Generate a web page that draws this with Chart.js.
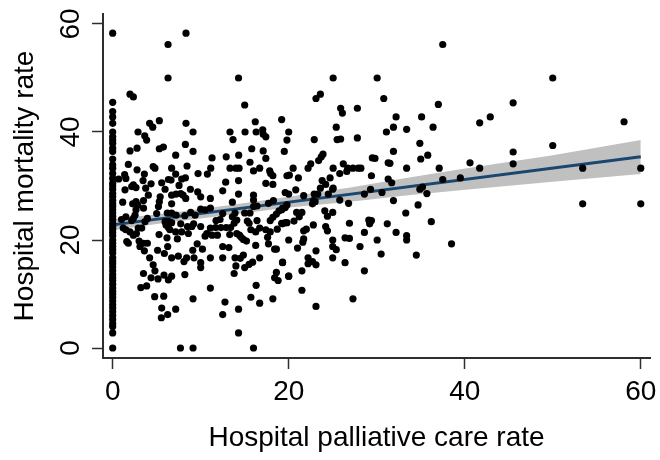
<!DOCTYPE html>
<html lang="en">
<head>
    <meta charset="UTF-8">
    <title>Hospital mortality vs palliative care</title>
    <script src="https://cdn.jsdelivr.net/npm/chart.js"></script>
    <style>
        body { margin: 0; background: #fff; }
        canvas { display: block; }
    </style>
</head>
<body>
    <canvas id="scatterChart" width="660" height="460"></canvas>
    <script>
        // Hospitals with a palliative care rate of zero (the column on the left)
        const zeroRateMortality = [
            58.3, 45.5, 43.8, 42.8, 41.6, 40, 39.1, 38.5, 37.9, 37,
            36.4, 35, 33.9, 33.3, 32.3, 31.4, 30.5, 30, 29.4, 28.6,
            28, 27.3, 26.7, 26.2, 25.6, 25, 24.4, 23.8, 23.1, 22.5,
            22, 21.4, 20.8, 20, 19.4, 18.8, 18.2, 17.6, 16.7, 16.1,
            15.6, 15, 14.3, 13.6, 13, 12.5, 11.8, 11.1, 10.5, 10,
            9.4, 8.7, 8, 7.4, 6.7, 6, 5.3, 4.5, 4, 2.8, 0
        ];

        // Remaining hospitals, same order in both arrays (rows of ten)
        const palliativeRate = [
            1.97, 2.35, 6.29, 8.33, 6.29, 14.3, 15, 4.2, 4.55, 5.3,
            2.88, 3.64, 3.86, 8.33, 9.13, 8.26, 9.13, 7.16, 5.3, 5.76,
            2.77, 1.97, 1.78, 2.77, 4.6, 4.8, 6.7, 8.45, 3.6, 1.36,
            1.5, 0.68, 7.16, 6.33, 6.63, 7.84, 8.26, 5.57, 4.36, 3.45,
            9.7, 10.76, 11.14, 11.29, 12.9, 14.32, 13.33, 13.67, 15.04, 16.2,
            16.3, 17.05, 17.1, 17.4, 15.8, 17.1, 17.4, 15.6, 16, 16.7,
            13.33, 14, 14.36, 14.3, 12.84, 17.84, 17.95, 18.2, 19.2, 20,
            19.8, 19.5, 19.8, 20.07, 17.4, 18.2, 2.35, 2.16, 2.65, 7.54,
            8.83, 1.4, 5.95, 3.75, 4.05, 5.4, 5.3, 5.2, 6.7, 7.2,
            7.73, 8, 8.3, 9.66, 10, 11.1, 12.5, 14.3, 16, 16,
            13.6, 6.7, 1.14, 2.27, 2.65, 2.84, 3.5, 3.5, 2.65, 2.54,
            2.35, 5, 6.2, 6.7, 7.2, 8.2, 8.86, 9.36, 10, 10.5,
            11.1, 12.5, 11.74, 12.2, 13.9, 13.6, 15, 15.6, 16, 16.4,
            17.7, 18.26, 1, 1.5, 2.16, 3.94, 3.67, 2.9, 3.3, 1.2,
            1.5, 1.97, 2.35, 2.7, 5.95, 6.33, 6.7, 6.06, 6.33, 6.5,
            5.27, 6.17, 7.16, 7.35, 7.84, 7.73, 8.5, 8.6, 9.2, 9,
            10, 10.7, 10.5, 9.6, 9.1, 10.2, 11.3, 11.9, 11.1, 11.7,
            12.3, 12.9, 13.4, 13.8, 14.1, 13.3, 14.1, 14.4, 14.6, 14.85,
            15.2, 15.3, 15.5, 16.4, 15.7, 16.25, 16.7, 17.4, 17.9, 17.6,
            17.7, 18.7, 19.3, 19.8, 17.9, 18.2, 18.6, 18.9, 19.3, 19.8,
            1.6, 1.78, 3, 3.1, 3.5, 3.94, 3.6, 5.1, 6.25, 5.87,
            4.2, 6.7, 7.46, 8.4, 8.1, 9.24, 10, 10, 11.1, 12.5,
            13.2, 12.5, 13.9, 14.85, 14.5, 16.25, 16.7, 15.9, 15.5, 15,
            14, 13.8, 18.6, 18.4, 19.3, 18.6, 18.4, 18.8, 20, 4.6,
            4.8, 3.5, 4.36, 5.15, 5.83, 6.7, 6.33, 8.2, 3.2, 3.86,
            4.77, 5.8, 9.13, 11.1, 12.76, 12.5, 14.3, 16.3, 15.7, 16.7,
            18.2, 5.57, 7.16, 6.25, 5.53, 14.3, 7.7, 9.13, 16,
            37.5, 25.05, 30.05, 23.6, 23.1, 30.8, 25.9, 26.1, 27.8, 37,
            32.2, 35.1, 25.4, 31.9, 33.4, 36.4, 31.1, 22.9, 25.5, 25.9,
            27.8, 34.9, 31.9, 23.9, 23.7, 23.4, 29.5, 29.8, 35.8, 35,
            22.5, 22.2, 20.5, 25.05, 26.2, 26.7, 27.3, 27.9, 28.2, 26.6,
            25.8, 31.3, 31.5, 33.4, 37.1, 40.6, 29.4, 21.1, 24.7, 23.8,
            24.2, 31.3, 31.7, 37.5, 39.5, 23.6, 25.05, 20.8, 29.3, 35.2,
            34.9, 19.6, 20, 21.7, 22.9, 23.3, 25, 24.5, 22.8, 22.7,
            23, 25.8, 26.8, 28.6, 30.6, 31.9, 34.7, 35.7, 19.6, 19.2,
            20.9, 21.5, 21.2, 24.1, 24.4, 25, 33.3, 20.6, 19.6, 19.2,
            22.8, 24.2, 24.4, 21.7, 22, 26.9, 29.1, 29.4, 29.2, 31.2,
            32.2, 33.4, 33.4, 36.2, 28.6, 20, 21.7, 21.6, 25, 26.4,
            26.9, 30.05, 25, 25.4, 21, 23.1, 28.1, 30.5, 34.5, 38.5,
            25, 22.2, 22.2, 22.7, 23.1, 26.4, 19.3, 28.6, 21.5, 20,
            21.5, 27.3, 23.1,
            50, 45.5, 42.9, 41.7, 58.1, 45.5, 45.5, 50, 41.7, 53.4,
            60, 53.4, 60
        ];
        const mortalityRate = [
            47, 46.5, 56.2, 58.3, 50, 50, 45, 41.6, 40.9, 42.1,
            40, 39.3, 38.5, 41.6, 40, 37.7, 36.4, 35.7, 36.9, 37.2,
            37, 36.5, 34, 33, 33.6, 33.3, 33.3, 33.7, 32.2, 32.1,
            31.4, 31.3, 32.2, 31.2, 31.1, 31.3, 31.5, 30.6, 30.4, 31,
            32.3, 32.2, 33.3, 35.2, 35.4, 35.7, 40, 38.6, 40, 41.9,
            40, 40.4, 39.6, 39.1, 36.9, 36.5, 35.1, 34.4, 32.8, 33.3,
            33.3, 33.3, 33.3, 31, 30.7, 32.8, 32.3, 31.9, 42.3, 40,
            38.5, 36.4, 31.9, 32, 30.5, 30.3, 30.2, 29.9, 29.7, 30.1,
            29.4, 29.3, 29.4, 29.6, 28.3, 28, 27.1, 26.2, 28.3, 28.5,
            28.6, 28.3, 27.7, 28.9, 28, 27.7, 29.1, 28.5, 28.3, 27.4,
            27, 26.7, 27, 26.7, 27.1, 26.5, 27.3, 25.9, 25.6, 24.6,
            24, 24.9, 25, 25, 24.6, 24.5, 25.1, 24.6, 25.7, 25.6,
            25.9, 24.9, 23.6, 23.8, 25, 24.3, 25, 25, 26.2, 26.3,
            26.8, 27.3, 23.8, 24.3, 23.6, 24, 23.4, 22.2, 22.2, 22.2,
            21.9, 21.5, 20.9, 21.2, 23.4, 23.4, 23.2, 22.8, 22.3, 21.9,
            21, 20.4, 21.5, 20.2, 21.5, 23, 22.5, 21.2, 23, 22.5,
            22.5, 21.2, 20.7, 19.3, 18.1, 18.3, 20.9, 20.9, 22.2, 22.3,
            22.3, 22.3, 22.3, 23.1, 23.7, 21, 21.2, 20.9, 20.5, 20.1,
            19.8, 23.5, 23.1, 23.6, 21.9, 21.5, 22.2, 21.9, 21.5, 20.5,
            19.3, 22, 23, 23.2, 23.6, 24.2, 24.8, 25.4, 25.9, 26.5,
            19.7, 19.4, 19.8, 18.8, 19.4, 19.4, 18, 18.1, 18.8, 17.5,
            16.7, 16.7, 17, 16.7, 16, 16.7, 15.8, 14.9, 16.7, 18.8,
            18.6, 16.7, 16.7, 17.2, 16.6, 19, 16.7, 15.9, 15.5, 14.9,
            15.2, 13.8, 18.3, 18.3, 15.9, 14, 13, 12.5, 13.3, 15.4,
            14.3, 13.8, 13, 12.8, 13.5, 13.3, 12.6, 13.6, 11.2, 11.5,
            9.5, 9.6, 9.1, 11.1, 8.5, 6.2, 7.2, 11.6, 9.4, 8.3,
            9.1, 7.4, 7.2, 6.2, 5.6, 2.8, 0, 0, 0,
            56.2, 50, 50, 47, 46.2, 46.2, 44.4, 43.5, 44.4, 45.1,
            42.8, 42.8, 40.9, 40.9, 40.5, 40.9, 40, 38.6, 38.6, 38.7,
            38.9, 37.9, 36.4, 35.9, 35.4, 34.7, 35.2, 35.1, 35.7, 35,
            34.1, 33.3, 33.3, 33.3, 34.1, 33.3, 33.3, 33.3, 33.3, 32.7,
            32.3, 34.3, 34.2, 33.3, 33.3, 34.3, 31.9, 31.5, 31.5, 31,
            30.3, 31.3, 30.6, 31.2, 31.5, 29.6, 29.6, 29.3, 29.4, 29.8,
            29.4, 28.8, 28.5, 28.2, 28.5, 28.5, 29.4, 28.5, 27.3, 26.7,
            27.1, 27.4, 26.8, 28.5, 28.8, 27.3, 26.5, 28.6, 26, 25.6,
            25.1, 25.1, 24.3, 25.4, 24.4, 25.1, 25, 23.5, 23.2, 23.1,
            22.8, 22.5, 21.7, 21.7, 22, 23.1, 23.7, 23.6, 23, 23,
            21.4, 20.8, 20, 23.4, 21.4, 20, 20.2, 19.6, 20, 20.4,
            20.3, 20, 18.8, 18.2, 18.5, 18, 18.8, 17.4, 17.2, 19.3,
            16.7, 16.7, 15.6, 16, 15.4, 15.8, 15.8, 14.3, 14.3, 13.3,
            10.7, 9.1, 7.7,
            50, 45.4, 42.8, 41.7, 41.9, 36.3, 34.1, 37.5, 33.3, 33.3,
            33.3, 26.7, 26.7
        ];

        // Fitted line and its confidence band
        const fitRate = [0, 60];
        const fitMortality = [22.8, 35.4];
        const bandRate = [0, 6, 13, 20, 27, 33, 39.5, 50, 60];
        const bandUpper = [23.9, 24.9, 26.4, 28, 29.7, 31.4, 33.1, 35.7, 38.5];
        const bandLower = [21.8, 23.2, 24.6, 26, 27.1, 28.2, 29.2, 30.8, 32.2];

        const xTicks = [0, 20, 40, 60];
        const yTicks = [0, 20, 40, 60];

        const toPoints = (xs, ys) => xs.map((x, i) => ({ x: x, y: ys[i] }));
        const dots = zeroRateMortality.map(y => ({ x: 0, y: y }))
            .concat(toPoints(palliativeRate, mortalityRate));

        const axisColor = '#2e2e2e';
        const fontFamily = '"Liberation Sans", Arial, sans-serif';

        new Chart(document.getElementById('scatterChart'), {
            type: 'scatter',
            data: {
                datasets: [
                    { label: 'Hospitals', data: dots, order: 0, pointRadius: 3.6, pointHoverRadius: 3.6,
                      pointBackgroundColor: '#000', pointBorderWidth: 0, showLine: false },
                    { label: 'Fit', data: toPoints(fitRate, fitMortality), order: 1, showLine: true,
                      borderColor: '#1a476f', borderWidth: 3, pointRadius: 0 },
                    { label: 'Upper', data: toPoints(bandRate, bandUpper), order: 2, showLine: true,
                      borderWidth: 0, pointRadius: 0, backgroundColor: '#c0c0c0', fill: '+1' },
                    { label: 'Lower', data: toPoints(bandRate, bandLower), order: 3, showLine: true,
                      borderWidth: 0, pointRadius: 0, fill: false }
                ]
            },
            options: {
                responsive: false,
                animation: false,
                layout: { padding: { top: 14, right: 10, left: 0, bottom: 0 } },
                plugins: { legend: { display: false }, tooltip: { enabled: false } },
                scales: {
                    x: {
                        type: 'linear', min: -1.1, max: 61.05,
                        afterBuildTicks: s => { s.ticks = xTicks.map(v => ({ value: v })); },
                        afterFit: s => { s.height = 102; s.paddingLeft = 0; s.paddingRight = 0; },
                        border: { color: axisColor, width: 2 },
                        grid: { drawOnChartArea: false, tickLength: 11, tickColor: axisColor, tickWidth: 1.5 },
                        ticks: { color: '#000', padding: 6, maxRotation: 0, font: { family: fontFamily, size: 28 } },
                        title: { display: true, text: 'Hospital palliative care rate', color: '#000',
                                 padding: { top: 0, bottom: 5 }, font: { family: fontFamily, size: 28 } }
                    },
                    y: {
                        type: 'linear', min: -1.85, max: 61.85,
                        afterBuildTicks: s => { s.ticks = yTicks.map(v => ({ value: v })); },
                        afterFit: s => { s.width = 103; s.paddingTop = 0; s.paddingBottom = 0; },
                        border: { color: axisColor, width: 2 },
                        grid: { drawOnChartArea: false, tickLength: 11, tickColor: axisColor, tickWidth: 1.5 },
                        ticks: { color: '#000', padding: 5, minRotation: 90, maxRotation: 90, crossAlign: 'center',
                                 font: { family: fontFamily, size: 28 } },
                        title: { display: true, text: 'Hospital mortality rate', color: '#000',
                                 padding: { top: 8, bottom: 0 }, font: { family: fontFamily, size: 28 } }
                    }
                }
            }
        });
    </script>
</body>
</html>
